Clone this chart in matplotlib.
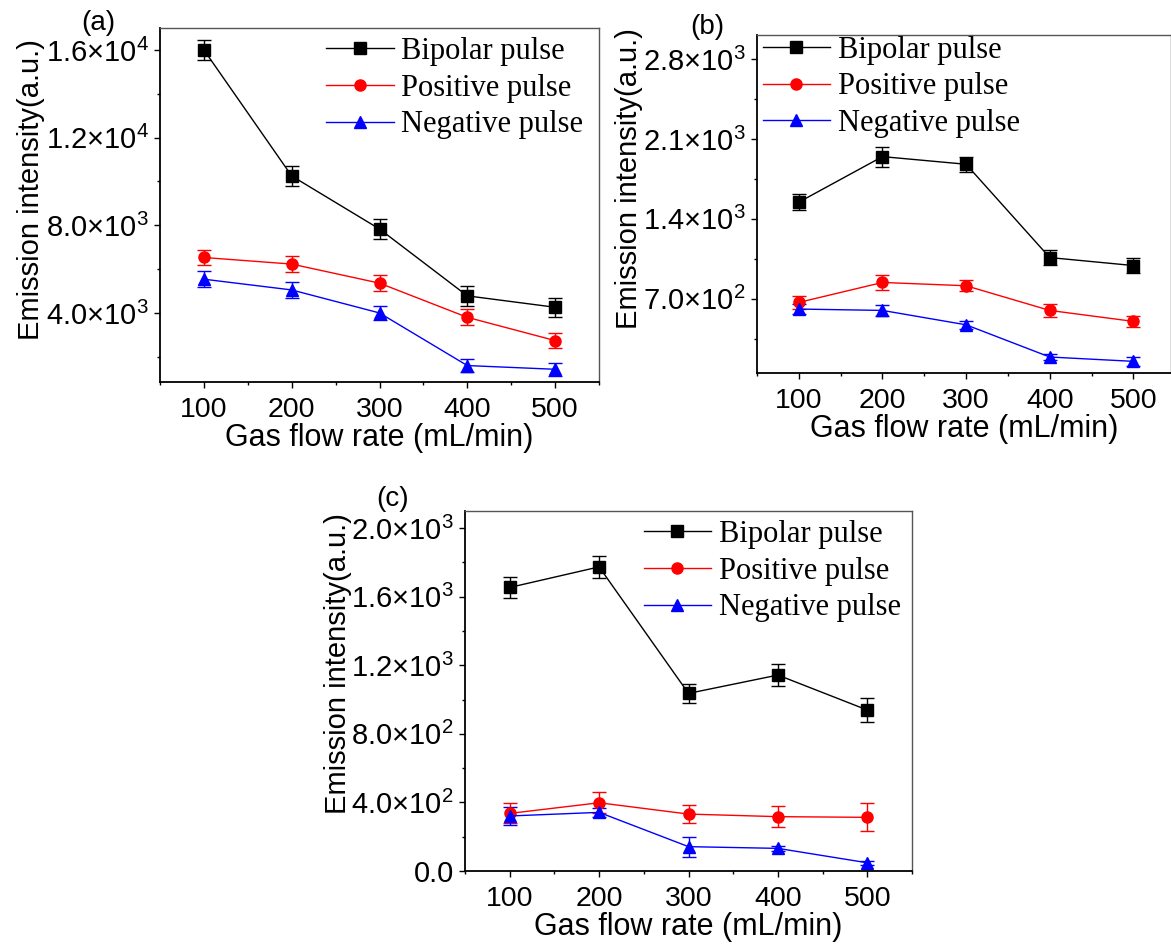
import matplotlib.pyplot as plt
from matplotlib.ticker import AutoMinorLocator

# gas flow rate (mL/min)
flow = [100, 200, 300, 400, 500]
series_names = ["Bipolar pulse", "Positive pulse", "Negative pulse"]

# panel (a)
a_bipolar = [16000, 10250, 7830, 4780, 4260]
a_positive = [6530, 6230, 5360, 3800, 2740]
a_negative = [5540, 5050, 4000, 1600, 1430]
a_bipolar_err = [440, 440, 470, 440, 430]
a_positive_err = [360, 360, 360, 360, 330]
a_negative_err = [360, 360, 330, 290, 300]
a_yticks = [4000, 8000, 12000, 16000]
a_ylabels = ["4.0×10$^{3}$", "8.0×10$^{3}$", "1.2×10$^{4}$", "1.6×10$^{4}$"]

# panel (b)
b_bipolar = [1546, 1945, 1878, 1061, 991]
b_positive = [668, 843, 814, 598, 502]
b_negative = [610, 598, 472, 190, 152]
b_bipolar_err = [70, 88, 65, 62, 62]
b_positive_err = [55, 65, 50, 60, 50]
b_negative_err = [40, 45, 35, 30, 40]
b_yticks = [700, 1400, 2100, 2800]
b_ylabels = ["7.0×10$^{2}$", "1.4×10$^{3}$", "2.1×10$^{3}$", "2.8×10$^{3}$"]

# panel (c)
c_bipolar = [1654, 1774, 1036, 1143, 939]
c_positive = [336, 398, 332, 317, 313]
c_negative = [321, 342, 142, 132, 48]
c_bipolar_err = [62, 65, 55, 65, 72]
c_positive_err = [58, 62, 52, 62, 82]
c_negative_err = [50, 25, 58, 15, 12]
c_yticks = [0, 400, 800, 1200, 1600, 2000]
c_ylabels = ["0.0", "4.0×10$^{2}$", "8.0×10$^{2}$", "1.2×10$^{3}$", "1.6×10$^{3}$", "2.0×10$^{3}$"]

colors = ["black", "red", "blue"]
markers = ["s", "o", "^"]

plt.rcParams['font.family'] = ['Liberation Sans', 'DejaVu Sans']
plt.rcParams['mathtext.fontset'] = 'custom'
plt.rcParams['mathtext.rm'] = 'Liberation Sans'
plt.rcParams['mathtext.it'] = 'Liberation Sans:italic'
plt.rcParams['mathtext.bf'] = 'Liberation Sans:bold'
plt.rcParams['mathtext.default'] = 'regular'

W, H = 1171, 944
fig = plt.figure(figsize=(W / 100, H / 100), dpi=100)


def px_axes(left, top, right, bottom):
    return fig.add_axes([left / W, 1 - bottom / H, (right - left) / W, (bottom - top) / H])


def draw_panel(ax, values, errors, yticks, ylabels, ylim, xlim, legend_loc, legend_anchor,
               tag, tag_xy, label_xy):
    handles = []
    for vals, errs, col, mk in zip(values, errors, colors, markers):
        cont = ax.errorbar(flow, vals, yerr=errs, color=col, marker=mk, markersize=8,
                           linewidth=1.0, elinewidth=1.0, capsize=5, capthick=1.0)
        handles.append(cont[0])
    ax.set_xlim(*xlim)
    ax.set_ylim(*ylim)
    ax.set_xticks(flow)
    ax.set_yticks(yticks)
    ax.set_yticklabels(ylabels)
    ax.xaxis.set_minor_locator(AutoMinorLocator(2))
    ax.yaxis.set_minor_locator(AutoMinorLocator(2))
    ax.tick_params(which='major', direction='out', length=4.5, width=1.0)
    ax.tick_params(axis='x', which='major', labelsize=20.5, pad=6.5)
    ax.tick_params(axis='y', which='major', labelsize=21, pad=3.5)
    ax.tick_params(which='minor', direction='out', length=2.5, width=1.0)
    ax.tick_params(top=False, right=False, which='both')
    for s in ['left', 'bottom']:
        ax.spines[s].set_linewidth(1.3)
        ax.spines[s].set_color('black')
    for s in ['top', 'right']:
        ax.spines[s].set_linewidth(1.0)
        ax.spines[s].set_color('#555555')
    ax.set_xlabel("Gas flow rate (mL/min)", fontsize=22, labelpad=0)
    ax.set_ylabel("Emission intensity(a.u.)", fontsize=21)
    ax.yaxis.set_label_coords(*label_xy)
    ax.legend(handles, series_names, loc=legend_loc, bbox_to_anchor=legend_anchor,
              frameon=False, prop={'family': 'Liberation Serif', 'size': 22},
              handlelength=2.2, handletextpad=0.25, labelspacing=0.25,
              borderaxespad=0.0, borderpad=0.3)
    fig.text(tag_xy[0] / W, 1 - tag_xy[1] / H, tag, fontsize=20, ha='center', va='center')


ax_a = px_axes(160, 28, 599, 382)
draw_panel(ax_a, [a_bipolar, a_positive, a_negative],
           [a_bipolar_err, a_positive_err, a_negative_err],
           a_yticks, a_ylabels, (850, 17000), (50, 550),
           'upper right', (0.985, 1.0), "(a)", (98, 23), (-0.262, 0.545))

ax_b = px_axes(757, 35, 1171, 373)
draw_panel(ax_b, [b_bipolar, b_positive, b_negative],
           [b_bipolar_err, b_positive_err, b_negative_err],
           b_yticks, b_ylabels, (50, 3010), (50, 545),
           'upper left', (-0.008, 1.025), "(b)", (707, 27), (-0.275, 0.574))

ax_c = px_axes(465, 511, 912, 871)
draw_panel(ax_c, [c_bipolar, c_positive, c_negative],
           [c_bipolar_err, c_positive_err, c_negative_err],
           c_yticks, c_ylabels, (0, 2100), (50, 550),
           'upper right', (0.995, 1.0), "(c)", (393, 499), (-0.253, 0.575))

fig.savefig("out.png", dpi=100)
